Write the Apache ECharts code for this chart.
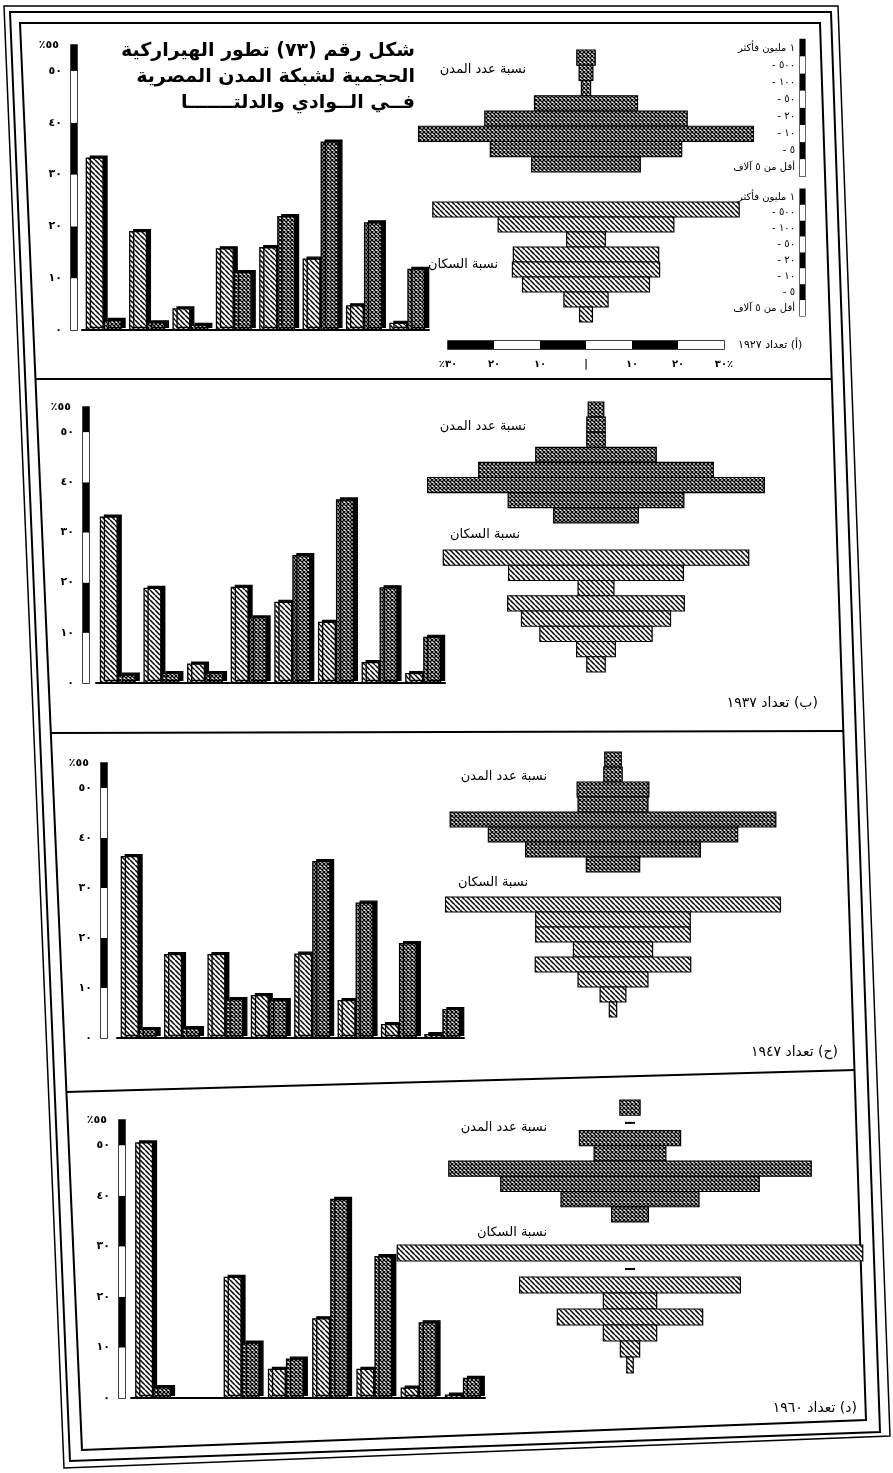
<!DOCTYPE html>
<html>
<head>
<meta charset="utf-8">
<script src="https://cdn.jsdelivr.net/npm/echarts@6/dist/echarts.min.js"></script>
<style>
  html, body { margin: 0; padding: 0; background: #fff; }
  #chart { width: 893px; height: 1473px; }
</style>
</head>
<body>
<div id="chart"></div>
<script>
// City size classes (thousands of inhabitants), largest first
const sizeClasses = ['١ مليون فأكثر', '- ٥٠٠', '- ١٠٠', '- ٥٠', '- ٢٠', '- ١٠', '- ٥', 'أقل من ٥ آلاف'];

// Share of urban population (%) in each size class
const pop1927 = [33.3, 19.1, 4.2, 15.8, 16.0, 13.8, 4.8, 1.4];
const pop1937 = [33.2, 19.0, 3.9, 19.2, 16.2, 12.2, 4.2, 2.0];
const pop1947 = [36.4, 16.8, 16.8, 8.6, 16.9, 7.6, 2.8, 0.8];
const pop1960 = [50.6, 0, 24.0, 5.8, 15.8, 5.8, 2.1, 0.7];

// Share of the number of towns (%) in each size class
const towns1927 = [2.0, 1.5, 1.0, 11.2, 22.0, 36.4, 20.8, 11.8];
const towns1937 = [1.7, 2.0, 2.0, 13.1, 25.5, 36.6, 19.1, 9.2];
const towns1947 = [1.8, 2.0, 7.8, 7.6, 35.4, 27.1, 19.0, 5.8];
const towns1960 = [2.2, 0, 11.0, 7.8, 39.4, 28.1, 15.0, 4.0];

// Tick labels
const barTickValues = [0, 10, 20, 30, 40, 50];
const barTickLabels = ['٠', '١٠', '٢٠', '٣٠', '٤٠', '٥٠'];
const barAxisTop = '٪٥٥';
const pyrTickValues = [-30, -20, -10, 0, 10, 20, 30];
const pyrTickLabels = ['٪٣٠', '٢٠', '١٠', '|', '١٠', '٢٠', '٣٠٪'];

// Texts
const RLM = '\u200F';
const titleLines = ['شكل رقم (٧٣) تطور الهيراركية', 'الحجمية لشبكة المدن المصرية', 'فــي الــوادي والدلتـــــــا'];
const townsLabel = 'نسبة عدد المدن';
const popLabel = 'نسبة السكان';
const captions = ['(أ) تعداد ١٩٢٧', '(ب) تعداد ١٩٣٧', '(ح) تعداد ١٩٤٧', '(د) تعداد ١٩٦٠'];

// ---- layout ----
const K = 4.6;          // px per percentage point on the pyramid axes
const PYR_HALF = 56;    // half range of pyramid value axes
const FONT = '"DejaVu Sans", sans-serif';

const panels = [
  { pop: pop1927, towns: towns1927, bar: { left: 82, top: 45, width: 347, height: 285 }, axisX: 71,
    cx: 586, dark: { top: 50, rowH: 15.25 }, light: { top: 202, rowH: 15 },
    townsLbl: [526, 70], popLbl: [498, 265], cap: [738, 345, 'left', 11] },
  { pop: pop1937, towns: towns1937, bar: { left: 96, top: 407, width: 349, height: 276 }, axisX: 83,
    cx: 596, dark: { top: 402, rowH: 15.1 }, light: { top: 550, rowH: 15.25 },
    townsLbl: [526, 427], popLbl: [520, 535], cap: [818, 703, 'right', 14] },
  { pop: pop1947, towns: towns1947, bar: { left: 117, top: 763, width: 347, height: 275 }, axisX: 101,
    cx: 613, dark: { top: 752, rowH: 15 }, light: { top: 897, rowH: 15 },
    townsLbl: [547, 777], popLbl: [528, 883], cap: [838, 1052, 'right', 14] },
  { pop: pop1960, towns: towns1960, bar: { left: 131, top: 1120, width: 354, height: 278 }, axisX: 119,
    cx: 630, dark: { top: 1100, rowH: 15.25 }, light: { top: 1245, rowH: 16 },
    townsLbl: [547, 1128], popLbl: [547, 1233], cap: [857, 1408, 'right', 14] }
];

// ---- fill patterns ----
function hatchCanvas() {
  const s = 5, c = document.createElement('canvas');
  c.width = c.height = s;
  const g = c.getContext('2d');
  g.fillStyle = '#fff'; g.fillRect(0, 0, s, s);
  g.strokeStyle = '#000'; g.lineWidth = 1.5;
  g.beginPath();
  for (const o of [-s, 0, s]) { g.moveTo(o, 0); g.lineTo(o + s, s); }
  g.stroke();
  return c;
}
function crossCanvas() {
  const s = 4, c = document.createElement('canvas');
  c.width = c.height = s;
  const g = c.getContext('2d');
  g.fillStyle = '#fff'; g.fillRect(0, 0, s, s);
  g.strokeStyle = '#000'; g.lineWidth = 1.3;
  g.beginPath();
  for (const o of [-s, 0, s]) {
    g.moveTo(o, 0); g.lineTo(o + s, s);
    g.moveTo(o + s, 0); g.lineTo(o, s);
  }
  g.stroke();
  return c;
}
const hatchFill = { image: hatchCanvas(), repeat: 'repeat' };
const crossFill = { image: crossCanvas(), repeat: 'repeat' };

// ---- option building ----
const grids = [], xAxes = [], yAxes = [], series = [], graphics = [];
function addGrid(g) { grids.push(g); return grids.length - 1; }

function pyramidRenderer(fill) {
  return function (params, api) {
    const v = api.value(0), i = api.value(1);
    const a = api.coord([-v, i]), b = api.coord([v, i]);
    const h = api.size([0, 1])[1];
    if (v === 0) {
      return { type: 'rect', shape: { x: a[0] - 5, y: a[1] - 1, width: 10, height: 2 }, style: { fill: '#000' } };
    }
    return {
      type: 'rect',
      shape: { x: a[0], y: a[1] - h / 2, width: b[0] - a[0], height: h },
      style: { fill: fill, stroke: '#000', lineWidth: 1.2 }
    };
  };
}

function addTextG(x, y, text, font, align) {
  graphics.push({ type: 'text', x: x, y: y, silent: true,
    style: { text: text, font: font, fill: '#000', align: align || 'right', verticalAlign: 'middle' } });
}

panels.forEach((P, pi) => {
  // vertical scale bar with tick labels
  const gs = addGrid({ left: P.axisX, top: P.bar.top, width: 6, height: P.bar.height,
    show: true, borderColor: '#000', borderWidth: 1.5, backgroundColor: '#fff' });
  xAxes.push({ gridIndex: gs, type: 'value', show: false, min: 0, max: 1 });
  yAxes.push({ gridIndex: gs, type: 'value', min: 0, max: 55, interval: 10,
    name: barAxisTop, nameLocation: 'end', nameGap: 0,
    nameTextStyle: { align: 'right', verticalAlign: 'middle', padding: [0, 12, 0, 0], fontSize: 11, fontWeight: 'bold', fontFamily: FONT, color: '#000' },
    axisLine: { show: false }, axisTick: { show: false }, splitLine: { show: false },
    splitArea: { show: true, areaStyle: { color: ['#fff', '#000'] } },
    axisLabel: { margin: 9, color: '#000', fontSize: 11, fontWeight: 'bold', fontFamily: FONT,
      formatter: v => barTickLabels[barTickValues.indexOf(v)] } });
  series.push({ type: 'line', xAxisIndex: xAxes.length - 1, yAxisIndex: yAxes.length - 1, data: [], silent: true });

  // grouped bars
  const gb = addGrid({ left: P.bar.left, top: P.bar.top, width: P.bar.width, height: P.bar.height });
  xAxes.push({ gridIndex: gb, type: 'category', data: sizeClasses,
    axisLine: { lineStyle: { color: '#000', width: 2 } }, axisTick: { show: false }, axisLabel: { show: false } });
  yAxes.push({ gridIndex: gb, type: 'value', min: 0, max: 55, show: false });
  const barStyle = { borderColor: '#000', borderWidth: 1.3, shadowColor: '#000', shadowOffsetX: 4, shadowOffsetY: -2, shadowBlur: 0 };
  series.push({ type: 'bar', name: popLabel, xAxisIndex: xAxes.length - 1, yAxisIndex: yAxes.length - 1,
    data: P.pop.map(v => v === 0 ? null : v), barWidth: 18, barGap: '0%',
    itemStyle: Object.assign({ color: hatchFill }, barStyle) });
  series.push({ type: 'bar', name: townsLabel, xAxisIndex: xAxes.length - 1, yAxisIndex: yAxes.length - 1,
    data: P.towns.map(v => v === 0 ? null : v), barWidth: 18, barGap: '0%',
    itemStyle: Object.assign({ color: crossFill }, barStyle) });

  // pyramids: number of towns (cross-hatched) and population (hatched)
  [[P.towns, crossFill, P.dark], [P.pop, hatchFill, P.light]].forEach(([vals, fill, L]) => {
    const g = addGrid({ left: P.cx - PYR_HALF * K, width: 2 * PYR_HALF * K, top: L.top, height: L.rowH * 8 });
    xAxes.push({ gridIndex: g, type: 'value', min: -PYR_HALF, max: PYR_HALF, show: false });
    yAxes.push({ gridIndex: g, type: 'category', data: sizeClasses, inverse: true, show: false });
    series.push({ type: 'custom', xAxisIndex: xAxes.length - 1, yAxisIndex: yAxes.length - 1,
      data: vals.map((v, i) => [v, i]), encode: { x: 0, y: 1 }, clip: false, silent: true,
      renderItem: pyramidRenderer(fill) });
  });

  addTextG(P.townsLbl[0], P.townsLbl[1], townsLabel, '13px ' + FONT);
  addTextG(P.popLbl[0], P.popLbl[1], popLabel, '13px ' + FONT);
  addTextG(P.cap[0], P.cap[1], RLM + captions[pi] + RLM, P.cap[3] + 'px ' + FONT, P.cap[2]);
});

// horizontal pyramid scale (first panel)
const P0 = panels[0];
const gsc = addGrid({ left: P0.cx - 30 * K, top: 341, width: 60 * K, height: 8,
  show: true, borderColor: '#000', borderWidth: 1.5, backgroundColor: '#fff' });
xAxes.push({ gridIndex: gsc, type: 'value', min: -30, max: 30, interval: 10,
  axisLine: { show: false }, axisTick: { show: false }, splitLine: { show: false },
  splitArea: { show: true, areaStyle: { color: ['#000', '#fff'] } },
  axisLabel: { margin: 10, color: '#000', fontSize: 10, fontWeight: 'bold', fontFamily: FONT,
    formatter: v => pyrTickLabels[pyrTickValues.indexOf(v)] } });
yAxes.push({ gridIndex: gsc, type: 'value', show: false, min: 0, max: 1 });
series.push({ type: 'line', xAxisIndex: xAxes.length - 1, yAxisIndex: yAxes.length - 1, data: [], silent: true });

// size-class key columns beside the first panel's pyramids
[[39.4, 137], [189, 127]].forEach(([top, h]) => {
  const g = addGrid({ left: 800, top: top, width: 5, height: h, show: true, borderColor: '#000', borderWidth: 1.2 });
  xAxes.push({ gridIndex: g, type: 'value', show: false, min: 0, max: 1 });
  yAxes.push({ gridIndex: g, type: 'category', data: sizeClasses, inverse: true,
    axisLine: { show: false }, axisTick: { show: false },
    splitArea: { show: true, areaStyle: { color: ['#000', '#fff'] } },
    axisLabel: { margin: 5, color: '#000', fontSize: 10, fontFamily: FONT } });
  series.push({ type: 'line', xAxisIndex: xAxes.length - 1, yAxisIndex: yAxes.length - 1, data: [], silent: true });
});

// title
titleLines.forEach((t, i) => addTextG(415, 51 + i * 26, t, 'bold 19px ' + FONT));

// page frame and panel dividers
const frames = [
  [[[4, 6], [838, 6], [890, 1436], [64, 1468]], 1.5],
  [[[10, 12], [831, 12], [880, 1432], [70, 1461]], 2],
  [[[20, 23], [820, 23], [866, 1420], [82, 1450]], 2]
];
frames.forEach(([pts, w]) => graphics.push({ type: 'polygon', silent: true, shape: { points: pts },
  style: { fill: 'none', stroke: '#000', lineWidth: w } }));
[[[35, 379], [832, 379]], [[51, 733], [843, 731]], [[66, 1092], [855, 1070]]].forEach(pts =>
  graphics.push({ type: 'polyline', silent: true, shape: { points: pts }, style: { stroke: '#000', lineWidth: 2 } }));

const chart = echarts.init(document.getElementById('chart'), null, { renderer: 'canvas' });
chart.setOption({
  backgroundColor: '#fff',
  animation: false,
  textStyle: { fontFamily: FONT },
  grid: grids,
  xAxis: xAxes,
  yAxis: yAxes,
  series: series,
  graphic: graphics
});
</script>
</body>
</html>
